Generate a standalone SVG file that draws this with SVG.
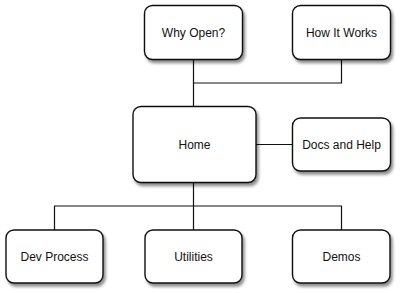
<svg xmlns="http://www.w3.org/2000/svg" width="400" height="293" viewBox="0 0 400 293">
<style>
.box{fill:#fff;stroke:#111;stroke-width:1.4;filter:url(#sh)}
.lbl{font-family:"Liberation Sans",Arial,sans-serif;font-size:12px;fill:#111;text-anchor:middle;dominant-baseline:central}
.con{fill:none;stroke:#111;stroke-width:1.2}
</style>
<defs>
<filter id="sh" x="-20%" y="-20%" width="150%" height="160%">
<feGaussianBlur in="SourceAlpha" stdDeviation="1.5"/>
<feOffset dx="2" dy="3" result="b"/>
<feComponentTransfer><feFuncA type="linear" slope="0.45"/></feComponentTransfer>
<feMerge><feMergeNode/><feMergeNode in="SourceGraphic"/></feMerge>
</filter>
</defs>
<rect width="400" height="293" fill="#fff"/>
<g id="connectors">
<path class="con" d="M193.5 59V83H341.5V59"/>
<path class="con" d="M193.5 83V106"/>
<path class="con" d="M256 144.5H293"/>
<path class="con" d="M193.5 183V206M54.5 230V206H341.5V230M193.5 206V230"/>
</g>
<g id="why-open"><rect class="box" x="144.5" y="5.5" width="98" height="54" rx="8"/><text class="lbl" x="193.5" y="32.5">Why Open?</text></g>
<g id="how-it-works"><rect class="box" x="292.5" y="5.5" width="98" height="54" rx="8"/><text class="lbl" x="341.5" y="32.5">How It Works</text></g>
<g id="home"><rect class="box" x="133" y="106.5" width="123" height="76" rx="8"/><text class="lbl" x="194.5" y="144.5">Home</text></g>
<g id="docs-and-help"><rect class="box" x="292.5" y="118" width="98" height="53" rx="8"/><text class="lbl" x="341.5" y="144.5">Docs and Help</text></g>
<g id="dev-process"><rect class="box" x="6" y="230" width="97" height="53" rx="8"/><text class="lbl" x="54.5" y="256.5">Dev Process</text></g>
<g id="utilities"><rect class="box" x="145" y="230" width="97" height="53" rx="8"/><text class="lbl" x="193.5" y="256.5">Utilities</text></g>
<g id="demos"><rect class="box" x="292.5" y="230" width="97.5" height="53" rx="8"/><text class="lbl" x="341.5" y="256.5">Demos</text></g>
</svg>
